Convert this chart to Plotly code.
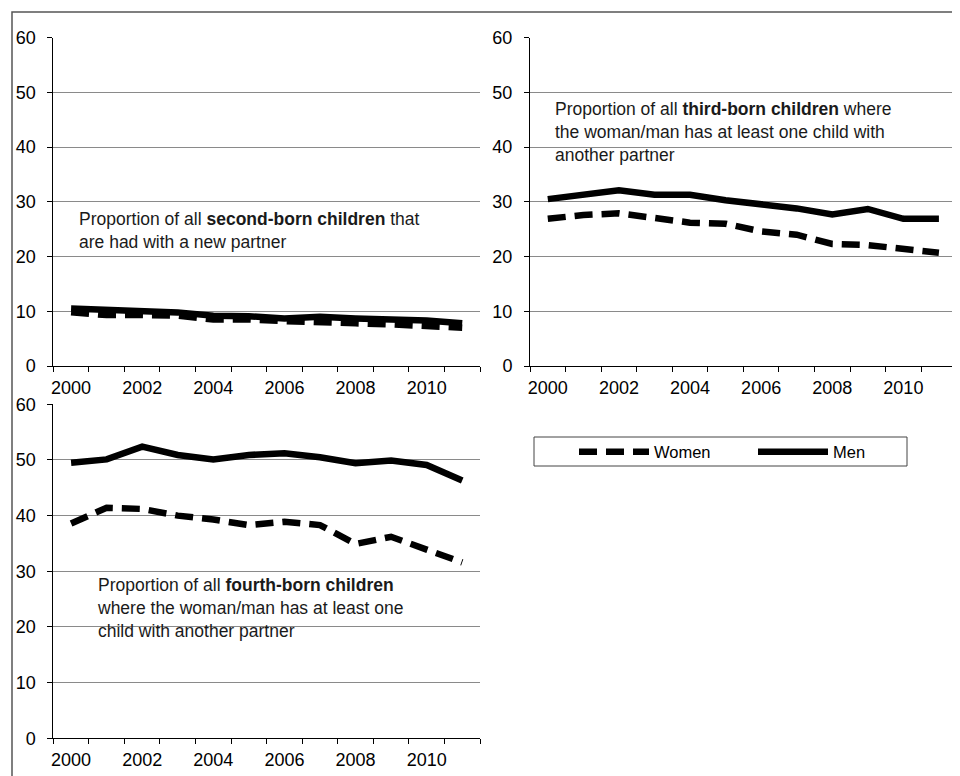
import plotly.graph_objects as go

years = list(range(2000, 2012))

# share (%) of second-born children had with a new partner
second_women = [9.8, 9.3, 9.3, 9.2, 8.5, 8.5, 8.2, 8.1, 7.8, 7.6, 7.4, 7.0]
second_men = [10.5, 10.3, 10.0, 9.8, 9.2, 9.1, 8.7, 9.0, 8.7, 8.5, 8.3, 7.8]

# third-born children, parent has a child with another partner
third_women = [26.9, 27.6, 27.9, 27.1, 26.2, 26.0, 24.6, 24.0, 22.3, 22.1, 21.4, 20.7]
third_men = [30.5, 31.3, 32.1, 31.3, 31.3, 30.3, 29.6, 28.8, 27.7, 28.7, 26.9, 26.9]

# fourth-born children
fourth_women = [38.6, 41.4, 41.2, 40.0, 39.3, 38.3, 38.9, 38.3, 34.9, 36.2, 33.9, 31.6]
fourth_men = [49.5, 50.1, 52.4, 50.9, 50.1, 50.9, 51.2, 50.5, 49.4, 49.9, 49.1, 46.3]

year_ticks = [2000, 2002, 2004, 2006, 2008, 2010]
year_labels = ["2000", "2002", "2004", "2006", "2008", "2010"]

# the page body has an 8px margin, so the figure is 8px smaller each way
OFF = 8
W, H = 960 - OFF, 776 - OFF
FONT = "Liberation Sans, Arial, sans-serif"


def fx(px):
    return (px - OFF) / W


def fy(py):
    return 1 - (py - OFF) / H


panels = [
    # (women, men, x-axis id, y-axis id)
    (second_women, second_men, "x", "y"),
    (third_women, third_men, "x2", "y2"),
    (fourth_women, fourth_men, "x3", "y3"),
]

fig = go.Figure()
for i, (women, men, xa, ya) in enumerate(panels):
    fig.add_trace(go.Scatter(
        x=years, y=women, mode="lines", name="Women",
        line=dict(color="#000000", width=6.5, dash="18px,9px"),
        xaxis=xa, yaxis=ya, showlegend=(i == 0),
    ))
    fig.add_trace(go.Scatter(
        x=years, y=men, mode="lines", name="Men",
        line=dict(color="#000000", width=6.5),
        xaxis=xa, yaxis=ya, showlegend=(i == 0),
    ))

xax = dict(
    range=[1999.5, 2011.5], showgrid=False, zeroline=False,
    showline=True, linecolor="#000000", linewidth=1,
    tickvals=year_ticks, ticktext=year_labels,
    ticks="", ticklabelstandoff=5,
    tickfont=dict(family=FONT, size=18, color="#000000"),
    minor=dict(tick0=1999.5, dtick=1, ticks="outside", ticklen=5,
               tickcolor="#000000", tickwidth=1, showgrid=False),
)
yax = dict(
    range=[0, 60], tickvals=[0, 10, 20, 30, 40, 50, 60],
    showgrid=True, gridcolor="#8a8a8a", gridwidth=1, zeroline=False,
    showline=True, linecolor="#000000", linewidth=1,
    ticks="outside", ticklen=5, tickcolor="#000000",
    ticklabelstandoff=8,
    tickfont=dict(family=FONT, size=18, color="#000000"),
)

top = [fy(366), fy(37.7)]
bottom = [fy(738.3), fy(404.3)]
left = [fx(53.3), fx(480)]
right = [fx(530), fx(956.7)]

fig.update_layout(
    width=W, height=H,
    margin=dict(l=0, r=0, t=0, b=0, autoexpand=False),
    paper_bgcolor="#ffffff", plot_bgcolor="#ffffff",
    xaxis=dict(xax, domain=left, anchor="y"),
    yaxis=dict(yax, domain=top, anchor="x"),
    xaxis2=dict(xax, domain=right, anchor="y2"),
    yaxis2=dict(yax, domain=top, anchor="x2"),
    xaxis3=dict(xax, domain=left, anchor="y3"),
    yaxis3=dict(yax, domain=bottom, anchor="x3"),
    showlegend=True,
    legend=dict(
        orientation="h", x=fx(574), y=fy(452), xanchor="left", yanchor="middle",
        bgcolor="rgba(0,0,0,0)", borderwidth=0,
        font=dict(family=FONT, size=16.5, color="#000000"),
        entrywidth=94, itemwidth=70,
    ),
)

# outer frame and legend box
fig.add_shape(type="rect", xref="paper", yref="paper",
              x0=fx(12), x1=1.05, y0=-0.05, y1=fy(12),
              line=dict(color="#555555", width=1.5))
fig.add_shape(type="rect", xref="paper", yref="paper",
              x0=fx(534), x1=fx(907), y0=fy(466), y1=fy(437),
              line=dict(color="#444444", width=1))

notes = [
    ("Proportion of all <b>second-born children</b> that<br>are had with a new partner", 77, 207),
    ("Proportion of all <b>third-born children</b> where<br>the woman/man has at least one child with<br>another partner", 553, 97),
    ("Proportion of all <b>fourth-born children</b><br>where the woman/man has at least one<br>child with another partner", 95, 573),
]
for text, x, y in notes:
    fig.add_annotation(
        text=text, xref="paper", yref="paper", x=fx(x), y=fy(y),
        xanchor="left", yanchor="top", align="left", showarrow=False,
        font=dict(family=FONT, size=17.5, color="#1a1a1a"),
    )

fig.write_html("out.html")
